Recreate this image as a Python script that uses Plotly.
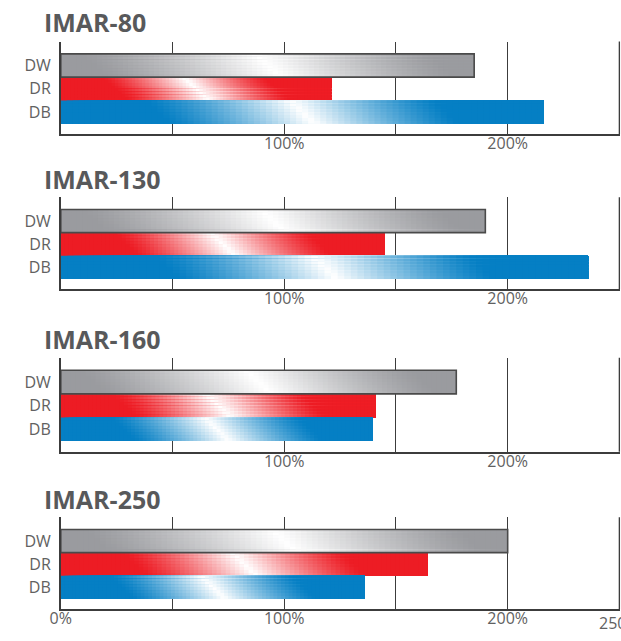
import numpy as np
import plotly.graph_objects as go

# Relative output (%) of each lamp channel, per model
models = ["IMAR-80", "IMAR-130", "IMAR-160", "IMAR-250"]
series = ["DW", "DR", "DB"]
dw_values = [185, 190, 177, 200]
dr_values = [121, 145, 141, 164]
db_values = [216, 236, 139.5, 136]
x_tickvals = [0, 50, 100, 150, 200, 250]
x_ticktext_inner = ["", "", "100%", "", "200%", ""]
x_ticktext_last = ["0%", "", "100%", "", "200%", "250%"]

values_by_series = {"DW": dw_values, "DR": dr_values, "DB": db_values}
base_rgb = {"DW": (154, 155, 159), "DR": (237, 28, 36), "DB": (5, 127, 196)}
sheen_half = {"DW": 0.42, "DR": 0.30, "DB": 0.30}
ypos = {"DW": 2, "DR": 1, "DB": 0}

W, H = 621, 641
X_LEFT = 60.8
PX_PER_PCT = 2.2344
X_MAX = 250.4
panel_px = [(41.5, 134.3), (197.3, 289.3), (357.7, 451.7), (517.3, 609.3)]
title_px = [21.7, 179.0, 339.0, 499.0]

N_SEG = 80      # gradient steps along each bar
N_ROW = 8       # horizontal strips per bar (for the slanted sheen)
SLANT = 11.0    # sheen shift from top to bottom edge, in % units

AXIS_COL = "#3c3c3c"
TEXT_COL = "#616161"
FONT = "Open Sans"


def sheen(t, center, half):
    d = np.abs(t - center) / half
    return np.clip(1.0 - d, 0.0, 1.0) ** 1.25


fig = go.Figure()
layout = dict(
    width=W, height=H, margin=dict(l=0, r=0, t=0, b=0, pad=0, autoexpand=False),
    paper_bgcolor="white", plot_bgcolor="white",
    barmode="overlay", showlegend=False, annotations=[], shapes=[],
)

for p, model in enumerate(models):
    sfx = "" if p == 0 else str(p + 1)
    xa, ya = "x" + sfx, "y" + sfx
    xs, ys, bases, widths, colors = [], [], [], [], []
    for s in series:
        v = values_by_series[s][p]
        r0 = np.array(base_rgb[s], dtype=float)
        for r in range(N_ROW):
            frac = (r + 0.5) / N_ROW
            row_top = ypos[s] + 0.5 - r / N_ROW
            row_bot = ypos[s] - 0.5
            center = 0.5 * v + (frac - 0.5) * SLANT
            for k in range(N_SEG):
                # each step runs to the end of the bar; the next one is painted over it
                start = v * k / N_SEG
                tmid = v * (k + 0.5) / N_SEG
                f = sheen(tmid, center, sheen_half[s] * v)
                c = r0 + (255.0 - r0) * f
                bases.append(start)
                xs.append(v - start)
                ys.append((row_top + row_bot) / 2)
                widths.append(row_top - row_bot)
                colors.append("rgb(%d,%d,%d)" % tuple(np.round(c).astype(int)))
    fig.add_trace(go.Bar(
        orientation="h", x=xs, base=bases, y=ys, width=widths,
        marker=dict(color=colors, line=dict(width=0)),
        xaxis=xa, yaxis=ya, hoverinfo="skip",
    ))
    # bar outlines at the true values (grey bar carries a dark frame)
    vals = [values_by_series[s][p] for s in series]
    fig.add_trace(go.Bar(
        orientation="h", x=vals, y=[ypos[s] for s in series], width=[1, 1, 1],
        marker=dict(color="rgba(0,0,0,0)",
                    line=dict(color=["#4a4a4a", "rgba(0,0,0,0)", "rgba(0,0,0,0)"],
                              width=[1.6, 0, 0])),
        xaxis=xa, yaxis=ya, hoverinfo="skip",
    ))

    top, bot = panel_px[p]
    last = p == len(models) - 1
    layout["xaxis" + sfx] = dict(
        domain=[X_LEFT / W, (X_LEFT + X_MAX * PX_PER_PCT) / W],
        range=[0, X_MAX], anchor=ya, automargin=False,
        tickvals=x_tickvals,
        ticktext=x_ticktext_last if last else x_ticktext_inner,
        showgrid=True, gridcolor=AXIS_COL, gridwidth=1.4,
        showline=True, linecolor=AXIS_COL, linewidth=1.6,
        ticks="", zeroline=False, fixedrange=True, ticklabelstandoff=-6,
        tickfont=dict(family=FONT, size=16, color=TEXT_COL),
    )
    layout["yaxis" + sfx] = dict(
        domain=[1 - bot / H, 1 - top / H], range=[-0.95, 3.03], anchor=xa,
        automargin=False,
        tickvals=[ypos[s] for s in series], ticktext=series,
        showgrid=False, showline=True, linecolor=AXIS_COL, linewidth=1.6,
        ticks="", zeroline=False, fixedrange=True, ticklabelstandoff=5,
        tickfont=dict(family=FONT, size=16, color=TEXT_COL),
    )
    # closing grid line at the 250% end of the scale
    layout["shapes"].append(dict(
        type="line", xref=xa, yref=ya + " domain", x0=250, x1=250, y0=0, y1=1,
        line=dict(color=AXIS_COL, width=1.4), layer="below",
    ))
    if last:
        layout["annotations"].append(dict(
            text="250%", xref=xa, yref=ya + " domain", x=250, y=0,
            xanchor="center", yanchor="top", yshift=-1, showarrow=False,
            font=dict(family=FONT, size=16, color=TEXT_COL),
        ))
    layout["annotations"].append(dict(
        text="<b>%s</b>" % model, xref="paper", yref="paper",
        x=42 / W, y=1 - title_px[p] / H, xanchor="left", yanchor="middle",
        showarrow=False, font=dict(family=FONT, size=25, color="#58595b"),
    ))

fig.update_layout(**layout)
fig.write_html("out.html")
